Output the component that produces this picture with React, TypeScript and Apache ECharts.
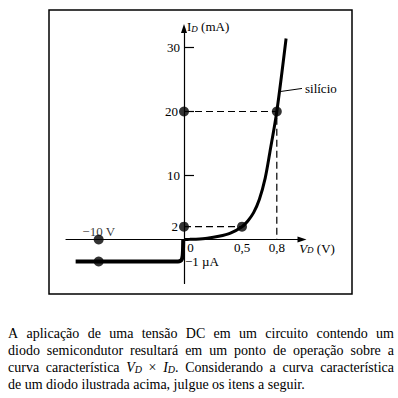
import React, { useEffect, useRef } from 'react';
import * as echarts from 'echarts';

const FONT = 'Liberation Serif';
const BLACK = '#000';

// Forward bias curve: V_D (V) and I_D (mA)
const forwardV = [0, 0.05, 0.1, 0.2, 0.3, 0.4, 0.5, 0.55, 0.6, 0.65, 0.7, 0.74, 0.8, 0.88];
const forwardI = [0, 0.02, 0.05, 0.2, 0.5, 1.0, 2, 2.9, 4.2, 6.3, 9.6, 13.6, 20, 31.4];

// Reverse bias curve: V_D (V) and I_D (µA)
const reverseV = [-12.7, -0.7, -0.4, -0.25, -0.16, -0.12, -0.1, -0.09];
const reverseI = [-1, -1, -0.97, -0.9, -0.75, -0.5, -0.2, 0];

// Marked operating points
const forwardDotsV = [0, 0.8, 0, 0.5];
const forwardDotsI = [20, 20, 2, 2];
const reverseDotsV = [-10, -10];
const reverseDotsI = [0, -1];

// Dashed guides
const guide2V = [0, 0.5];
const guide2I = [2, 2];
const guide20V = [0, 0.8, 0.8];
const guide20I = [20, 20, 0];

// "silício" leader
const leaderV = [0.822, 1.017];
const leaderI = [23.1, 23.6];

// Tick labels
const yTickValues = [10, 20, 30];
const yLabelValues = [2, 10, 20, 30];
const xLabelValues = [0, 0.5, 0.8];
const reverseLabelValues = [-1];
const reverseLabelText = '−1 µA';
const reverseVoltLabel = '−10 V';
const curveName = 'silício';

const paragraphLines = [
  'A aplicação de uma tensão DC em um circuito contendo um',
  'diodo semicondutor resultará em um ponto de operação sobre a',
  'curva característica V_D × I_D. Considerando a curva característica',
  'de um diodo ilustrada acima, julgue os itens a seguir.',
];
const paragraphJustify = [true, true, true, false];

const zip = (a: number[], b: number[]) => a.map((v, i) => [v, b[i]]);

const PARA_SIZE = 14;
const SUB_SIZE = 10;

type Part = { text: string; style: 'n' | 'i' | 's' };

function wordParts(w: string): Part[] {
  const m = /^([VI])_D(.*)$/.exec(w);
  if (m) {
    const parts: Part[] = [
      { text: m[1], style: 'i' },
      { text: 'D', style: 's' },
    ];
    if (m[2]) parts.push({ text: m[2], style: 'n' });
    return parts;
  }
  return [{ text: w, style: 'n' }];
}

export default function App() {
  const ref = useRef<HTMLDivElement>(null);

  useEffect(() => {
    if (!ref.current) return;
    const chart = echarts.init(ref.current, null, { renderer: 'svg' });

    const canvas = document.createElement('canvas');
    const ctx = canvas.getContext('2d')!;
    const fontFor = (s: 'n' | 'i' | 's') =>
      s === 'n'
        ? `${PARA_SIZE}px "Liberation Serif"`
        : s === 'i'
        ? `italic ${PARA_SIZE}px "Liberation Serif"`
        : `italic ${SUB_SIZE}px "Liberation Serif"`;
    const measure = (parts: Part[]) =>
      parts.reduce((acc, p) => {
        ctx.font = fontFor(p.style);
        return acc + ctx.measureText(p.text).width;
      }, 0);

    const paraRich = {
      n: { fontSize: PARA_SIZE, fontFamily: FONT, color: BLACK, lineHeight: 14 },
      i: { fontSize: PARA_SIZE, fontFamily: FONT, fontStyle: 'italic', color: BLACK, lineHeight: 14 },
      s: { fontSize: SUB_SIZE, fontFamily: FONT, fontStyle: 'italic', color: BLACK, lineHeight: 6, verticalAlign: 'bottom' },
    };

    const paraLeft = 8;
    const paraRight = 394;
    const firstBaseline = 338;
    const lineStep = 17.2;
    const paraGraphics: any[] = [];
    paragraphLines.forEach((line, li) => {
      const words = line.split(' ');
      const parts = words.map(wordParts);
      const widths = parts.map(measure);
      ctx.font = fontFor('n');
      const space = ctx.measureText(' ').width;
      const total = widths.reduce((a, b) => a + b, 0);
      const gap = paragraphJustify[li] && words.length > 1
        ? (paraRight - paraLeft - total) / (words.length - 1)
        : space;
      let x = paraLeft;
      const y = firstBaseline + li * lineStep - 4.7;
      parts.forEach((p, wi) => {
        paraGraphics.push({
          type: 'text',
          x,
          y,
          style: {
            text: p.map((q) => `{${q.style}|${q.text}}`).join(''),
            rich: paraRich,
            verticalAlign: 'middle',
            align: 'left',
          },
        });
        x += widths[wi] + gap;
      });
    });

    const labelRich = {
      n: { fontSize: 13, fontFamily: FONT, color: BLACK, lineHeight: 13 },
      i: { fontSize: 13, fontFamily: FONT, fontStyle: 'italic', color: BLACK, lineHeight: 13 },
      s: { fontSize: 9, fontFamily: FONT, fontStyle: 'italic', color: BLACK, lineHeight: 6, verticalAlign: 'bottom' },
    };

    const axisLineStyle = { color: BLACK, width: 1.2 };
    const labelBase = { color: BLACK, fontSize: 13, fontFamily: FONT, lineHeight: 12 };

    const option: any = {
      animation: false,
      backgroundColor: '#fff',
      textStyle: { fontFamily: FONT, color: BLACK },
      grid: [
        { left: 184, top: 28.5, width: 118, height: 211 },
        { left: 66, top: 239.5, width: 118, height: 44 },
      ],
      xAxis: [
        {
          gridIndex: 0,
          type: 'value',
          min: 0,
          max: 1.0172,
          position: 'bottom',
          axisLine: { show: true, onZero: false, symbol: ['none', 'triangle'], symbolSize: [6, 9], lineStyle: axisLineStyle },
          axisTick: { show: false },
          splitLine: { show: false },
          axisLabel: {
            ...labelBase,
            customValues: xLabelValues,
            margin: 2,
            formatter: (v: number) => (v === 0 ? '{z|0}' : String(v).replace('.', ',')),
            rich: { z: { ...labelBase, padding: [0, 0, 0, 13] } },
          },
          name: '{i|V}{s|D}{n| (V)}',
          nameLocation: 'end',
          nameGap: 15,
          nameTextStyle: { align: 'center', verticalAlign: 'middle', padding: [17, 0, 0, 0], rich: labelRich },
        },
        {
          gridIndex: 1,
          type: 'value',
          min: -13.83,
          max: 0,
          position: 'top',
          axisLine: { show: true, onZero: false, lineStyle: axisLineStyle },
          axisTick: { show: false },
          axisLabel: { show: false },
          splitLine: { show: false },
        },
      ],
      yAxis: [
        {
          gridIndex: 0,
          type: 'value',
          min: 0,
          max: 32.97,
          position: 'left',
          axisLine: { show: true, onZero: false, symbol: ['none', 'triangle'], symbolSize: [6, 9], lineStyle: axisLineStyle },
          axisTick: { show: true, inside: true, length: 10, customValues: yTickValues, lineStyle: axisLineStyle },
          splitLine: { show: false },
          axisLabel: {
            ...labelBase,
            customValues: yLabelValues,
            margin: 4,
            formatter: (v: number) => (v === 2 || v === 20 ? `{d|${v}}` : String(v)),
            rich: { d: { ...labelBase, padding: [0, 2, 0, 0] } },
          },
          name: '{n|I}{s|D}{n| (mA)}',
          nameLocation: 'end',
          nameGap: 2,
          nameTextStyle: { align: 'left', verticalAlign: 'middle', padding: [0, 0, 0, 3], rich: labelRich },
        },
        {
          gridIndex: 1,
          type: 'value',
          min: -2,
          max: 0,
          position: 'right',
          axisLine: { show: true, onZero: false, lineStyle: axisLineStyle },
          axisTick: { show: false },
          splitLine: { show: false },
          axisLabel: {
            ...labelBase,
            customValues: reverseLabelValues,
            margin: 1,
            formatter: () => reverseLabelText,
          },
        },
      ],
      series: [
        {
          type: 'line',
          xAxisIndex: 0,
          yAxisIndex: 0,
          data: zip(guide2V, guide2I),
          symbol: 'none',
          clip: false,
          lineStyle: { color: BLACK, width: 1.2, type: [7, 4] },
          z: 2,
        },
        {
          type: 'line',
          xAxisIndex: 0,
          yAxisIndex: 0,
          data: zip(guide20V, guide20I),
          symbol: 'none',
          clip: false,
          lineStyle: { color: BLACK, width: 1.2, type: [7, 4] },
          z: 2,
        },
        {
          type: 'line',
          xAxisIndex: 0,
          yAxisIndex: 0,
          data: zip(forwardV, forwardI),
          symbol: 'none',
          smooth: 0.3,
          clip: false,
          lineStyle: { color: BLACK, width: 3 },
          z: 3,
        },
        {
          type: 'line',
          xAxisIndex: 1,
          yAxisIndex: 1,
          data: zip(reverseV, reverseI),
          symbol: 'none',
          smooth: 0.3,
          clip: false,
          lineStyle: { color: BLACK, width: 4 },
          z: 3,
        },
        {
          type: 'line',
          xAxisIndex: 0,
          yAxisIndex: 0,
          data: zip(leaderV, leaderI),
          symbol: 'none',
          clip: false,
          lineStyle: { color: BLACK, width: 1 },
          endLabel: { show: true, formatter: curveName, distance: 3, ...labelBase },
          z: 3,
        },
        {
          type: 'scatter',
          xAxisIndex: 0,
          yAxisIndex: 0,
          data: zip(forwardDotsV, forwardDotsI),
          symbolSize: 10,
          clip: false,
          itemStyle: { color: BLACK },
          z: 5,
        },
        {
          type: 'scatter',
          xAxisIndex: 1,
          yAxisIndex: 1,
          data: zip(reverseDotsV, reverseDotsI).map((d, i) =>
            i === 0
              ? {
                  value: d,
                  label: { show: true, formatter: reverseVoltLabel, position: 'inside', offset: [0, -8], ...labelBase },
                }
              : { value: d }
          ),
          symbolSize: 10,
          clip: false,
          itemStyle: { color: BLACK },
          z: 5,
        },
      ],
      graphic: [
        {
          type: 'rect',
          shape: { x: 49, y: 10, width: 303, height: 284 },
          style: { fill: 'none', stroke: BLACK, lineWidth: 1.5 },
          silent: true,
        },
        ...paraGraphics,
      ],
    };

    chart.setOption(option);
    return () => chart.dispose();
  }, []);

  return (
    <div
      ref={ref}
      style={{ position: 'fixed', left: 0, top: 0, width: 398, height: 398, background: '#fff' }}
    />
  );
}
